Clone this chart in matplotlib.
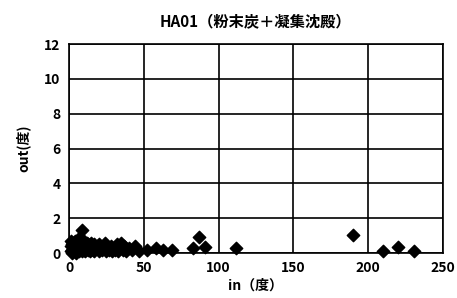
import matplotlib
matplotlib.use("Agg")
import matplotlib.pyplot as plt

plt.rcParams['font.family'] = ['Noto Sans CJK JP', 'DejaVu Sans']

# values (in vs out, 度)
in_vals = [1, 1, 1, 2, 2, 2, 3, 3, 3, 4, 4, 4, 5, 5, 5, 6, 6, 6, 7, 7, 7, 8, 8, 9, 9,
           10, 10, 10, 11, 11, 12, 12, 13, 13, 14, 14, 15, 15, 16, 17, 17, 18, 19,
           20, 20, 21, 22, 23, 24, 25, 26, 27, 28, 29, 30, 31, 32, 33, 34, 35, 36,
           37, 38, 40, 42, 44, 47, 52, 58, 63, 69, 83, 87, 91, 112, 190,
           210, 220, 231]
out_vals = [0.1, 0.4, 0.7, 0.2, 0.5, 0.0, 0.3, 0.6, 0.1, 0.5, 0.2, 0.7, 0.3, 0.6, 0.0,
            0.2, 0.5, 0.8, 0.1, 0.4, 0.7, 0.3, 0.6, 1.3, 0.1, 0.2, 0.5, 0.7, 0.4,
            0.1, 0.3, 0.6, 0.2, 0.5, 0.4, 0.1, 0.3, 0.6, 0.2, 0.5, 0.1, 0.3, 0.4,
            0.1, 0.5, 0.3, 0.2, 0.4, 0.6, 0.1, 0.3, 0.2, 0.4, 0.1, 0.3, 0.2, 0.5,
            0.1, 0.3, 0.6, 0.2, 0.4, 0.1, 0.3, 0.2, 0.4, 0.1, 0.2, 0.3, 0.2, 0.2,
            0.3, 0.9, 0.35, 0.3, 1.05, 0.1, 0.35, 0.1]

fig = plt.figure(figsize=(4.57, 2.98), dpi=100)
ax = fig.add_axes([0.151, 0.151, 0.818, 0.701])

ax.scatter(in_vals, out_vals, marker="D", s=40, color="black", zorder=3, clip_on=False)

ax.set_xlim(0, 250)
ax.set_ylim(0, 12)
ax.set_xticks(range(0, 251, 50))
ax.set_yticks(range(0, 13, 2))
ax.grid(True, color="black", linewidth=1.2)
for s in ax.spines.values():
    s.set_linewidth(1.2)
ax.tick_params(length=0, labelsize=10, pad=6)
for lbl in ax.get_xticklabels() + ax.get_yticklabels():
    lbl.set_fontweight("bold")

ax.set_title("HA01（粉末炭＋凝集沈殿）", fontsize=11, fontweight="bold", pad=13)
ax.set_xlabel("in（度）", fontsize=10, fontweight="bold", labelpad=2)
ax.set_ylabel("out(度)", fontsize=10, fontweight="bold", labelpad=10)

fig.savefig("out.png", dpi=100)
